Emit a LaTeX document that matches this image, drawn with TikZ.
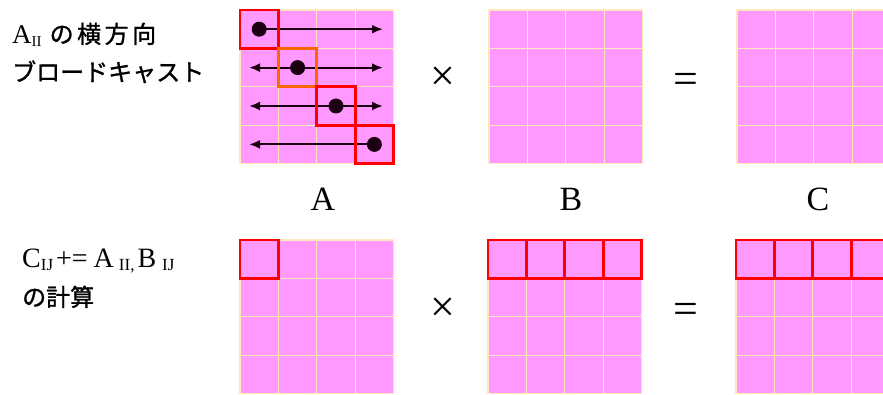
\documentclass[tikz,border=0pt]{standalone}
\usepackage{fontspec}
\setmainfont{Liberation Serif}
\newfontfamily\jpfont{Noto Sans CJK JP}[FakeBold=1.2]
\usetikzlibrary{arrows.meta,positioning}
\definecolor{cellpink}{RGB}{255,153,255}
\definecolor{gridcream}{RGB}{255,232,190}
\definecolor{boxred}{RGB}{255,0,0}
\definecolor{boxorange}{RGB}{255,102,0}
\definecolor{dotdark}{RGB}{26,0,16}
\newcommand{\sbs}[2][15]{\raisebox{-3.5pt}{\fontsize{#1}{#1}\selectfont #2}}
\newcommand{\js}{\hspace{3.5pt}}

\tikzset{
  cell/.style={fill=cellpink,draw=gridcream,line width=1.2pt,minimum size=38.4pt,inner sep=0pt,outer sep=0pt},
  hilite/.style={draw=boxred,line width=2.8pt},
  bdot/.style={circle,fill=dotdark,minimum size=15pt,inner sep=0pt},
  bcast/.style={-{Latex[length=11pt,width=9pt]},line width=2pt,draw=dotdark},
  jtext/.style={anchor=base west,inner sep=0pt,font=\fontsize{24}{28}\selectfont},
  optext/.style={inner sep=0pt,font=\fontsize{44}{48}\selectfont},
  mlabel/.style={inner sep=0pt,font=\fontsize{34}{38}\selectfont}
}

\begin{document}
\begin{tikzpicture}[x=1pt,y=-1pt]
  \useasboundingbox (0,0) rectangle (883,394);
  \clip (0,0) rectangle (883,394);
  % the six 4x4 block grids
  \foreach \g/\gx/\gy in {A/240/10,B/489/10,C/737/10,sA/240/240,sB/488/240,sC/736/240}{
    \foreach \r in {1,...,4}{
      \foreach \c in {1,...,4}{
        \node[cell] (\g\r\c) at ({\gx+38.4*\c-19.2},{\gy+38.4*\r-19.2}) {};
      }
    }
  }
  % broadcast of the diagonal blocks along each row
  \foreach \r in {1,...,4}{
    \coordinate (re\r) at (383,{38.4*\r-9.2});
    \coordinate (le\r) at (249,{38.4*\r-9.2});
  }
  \draw[bcast] (A11.center) -- (re1);
  \draw[bcast] (A22.center) -- (re2);
  \draw[bcast] (A22.center) -- (le2);
  \draw[bcast] (A33.center) -- (re3);
  \draw[bcast] (A33.center) -- (le3);
  \draw[bcast] (A44.center) -- (le4);
  \foreach \r in {1,...,4}{
    \node[bdot] (d\r) at (A\r\r) {};
  }
  \draw[hilite] (A11.north west) rectangle (A11.south east);
  \draw[hilite,draw=boxorange] (A22.north west) rectangle (A22.south east);
  \draw[hilite] (A33.north west) rectangle (A33.south east);
  \draw[hilite] (A44.north west) rectangle (A44.south east);
  % blocks used in the local product
  \draw[hilite] (sA11.north west) rectangle (sA11.south east);
  \foreach \c in {1,...,4}{
    \draw[hilite] (sB1\c.north west) rectangle (sB1\c.south east);
    \draw[hilite] (sC1\c.north west) rectangle (sC1\c.south east);
  }
  % operators and names
  \node[optext] (times1) at (443,79) {×};
  \node[optext] (eq1) at (686,83) {=};
  \node[optext] (times2) at (443,310) {×};
  \node[optext] (eq2) at (686,313) {=};
  \node[mlabel] (labA) at (323,199) {A};
  \node[mlabel] (labB) at (571,199) {B};
  \node[mlabel] (labC) at (818,199) {C};
  % captions
  \node[jtext] (cap1) at (12,43)
    {{\fontsize{27}{30}\selectfont A}\sbs{II}\hspace{8pt}{\jpfont の\js 横\js 方\js 向}};
  \node[jtext] (cap2) at (12,81) {\jpfont ブロードキャスト};
  \node[jtext,font=\fontsize{28}{30}\selectfont] (cap3) at (22,267)
    {C\sbs[17]{IJ}\hspace{3pt}+=\hspace{6pt}A\hspace{5pt}\sbs[17]{II,}\hspace{3pt}B\hspace{6pt}\sbs[17]{IJ}};
  \node[jtext] (cap4) at (22,306) {\jpfont の計算};
\end{tikzpicture}
\end{document}
